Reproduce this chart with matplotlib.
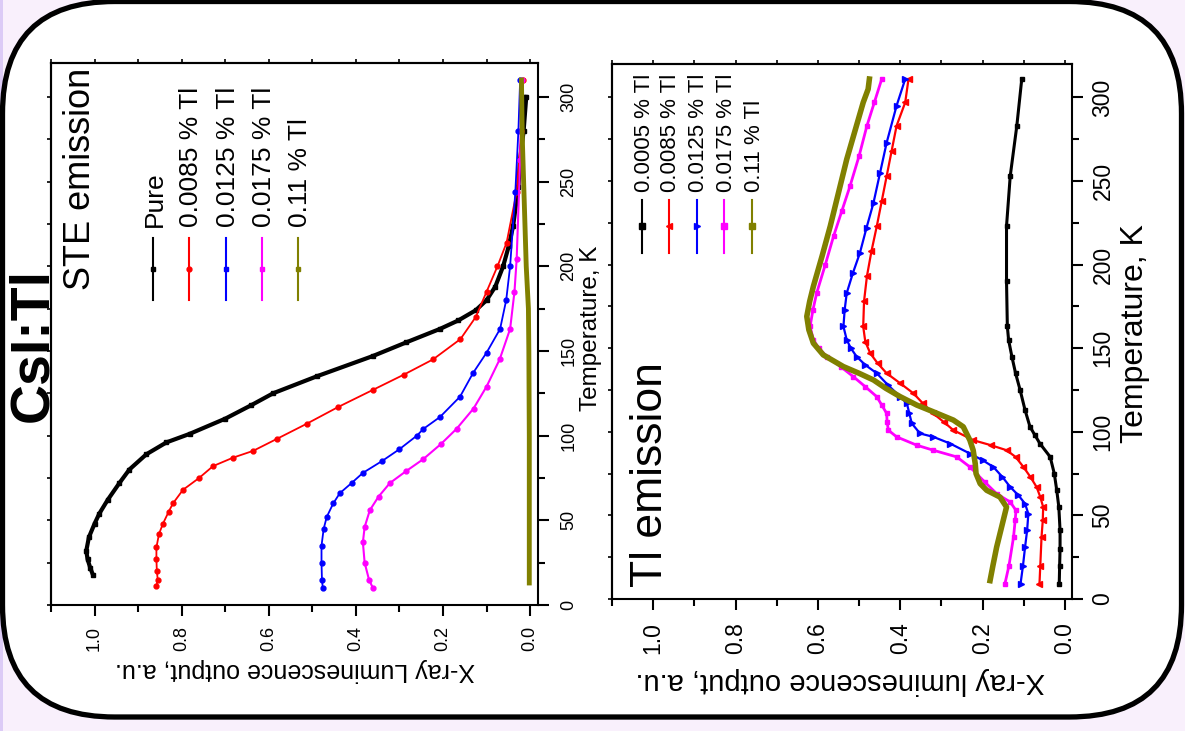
import matplotlib
matplotlib.use("Agg")
import matplotlib.pyplot as plt
from matplotlib.lines import Line2D
from matplotlib.patches import FancyBboxPatch, Rectangle
from matplotlib.ticker import MultipleLocator

plt.rcParams['font.family'] = ['Liberation Sans', 'DejaVu Sans']

# ---------------- data ----------------
# STE emission panel (temperature K, luminescence a.u.)
ste_labels = ["Pure", "0.0085 % Tl", "0.0125 % Tl", "0.0175 % Tl", "0.11 % Tl"]
ste_pure_T = [18, 22, 27, 32, 40, 48, 54, 62, 72, 80, 89, 96, 101, 110, 118, 125, 135, 147,
              155, 163, 168, 174, 180, 188, 200, 212, 224, 247, 263, 280, 300]
ste_pure_L = [1.004, 1.01, 1.016, 1.019, 1.013, 1.0, 0.989, 0.97, 0.943, 0.92, 0.881, 0.835,
              0.782, 0.70, 0.64, 0.59, 0.49, 0.361, 0.285, 0.207, 0.165, 0.125, 0.1, 0.08,
              0.062, 0.049, 0.039, 0.027, 0.023, 0.015, 0.009]
ste_0085_T = [11, 15, 20, 27, 34, 42, 48, 55, 60, 68, 75, 82, 87, 91, 98, 107, 117, 127, 136,
              145, 157, 170, 185, 200, 214, 244, 280, 310]
ste_0085_L = [0.858, 0.855, 0.857, 0.858, 0.858, 0.852, 0.843, 0.83, 0.82, 0.797, 0.76, 0.728,
              0.682, 0.636, 0.582, 0.513, 0.44, 0.361, 0.29, 0.223, 0.16, 0.125, 0.1, 0.075,
              0.054, 0.031, 0.02, 0.016]
ste_0125_T = [10, 15, 25, 35, 45, 52, 60, 66, 72, 78, 85, 92, 100, 104, 111, 123, 137, 149,
              163, 180, 200, 244, 280, 310]
ste_0125_L = [0.476, 0.478, 0.479, 0.479, 0.474, 0.467, 0.452, 0.437, 0.41, 0.384, 0.34, 0.3,
              0.26, 0.245, 0.207, 0.161, 0.131, 0.1, 0.069, 0.055, 0.046, 0.034, 0.027, 0.023]
ste_0175_T = [10, 15, 25, 37, 46, 56, 64, 72, 79, 86, 95, 104, 116, 129, 145, 163, 185, 204,
              263, 310]
ste_0175_L = [0.361, 0.37, 0.38, 0.384, 0.38, 0.368, 0.348, 0.322, 0.285, 0.246, 0.205, 0.169,
              0.13, 0.1, 0.07, 0.046, 0.036, 0.031, 0.023, 0.019]
ste_011_T = [13, 50, 100, 150, 175, 200, 225, 250, 275, 310]
ste_011_L = [0.002, 0.002, 0.002, 0.003, 0.004, 0.009, 0.012, 0.015, 0.018, 0.02]

# Tl emission panel
tl_labels = ["0.0005 % Tl", "0.0085 % Tl", "0.0125 % Tl", "0.0175 % Tl", "0.11 % Tl"]
tl_00005_T = [9, 20, 30, 41, 55, 65, 75, 85, 93, 98, 103, 113, 125, 135, 145, 155, 163, 190,
              223, 253, 283, 311]
tl_00005_L = [0.014, 0.013, 0.012, 0.012, 0.015, 0.02, 0.026, 0.036, 0.061, 0.073, 0.085,
              0.097, 0.109, 0.12, 0.129, 0.137, 0.14, 0.142, 0.142, 0.133, 0.117, 0.105]
tl_0085_T = [9, 20, 37, 47, 55, 61, 67, 73, 79, 85, 89, 92, 95, 101, 106, 111, 117, 123, 129,
             135, 141, 147, 154, 163, 178, 193, 208, 223, 238, 253, 268, 283, 297, 311]
tl_0085_L = [0.062, 0.06, 0.057, 0.054, 0.053, 0.06, 0.069, 0.084, 0.101, 0.12, 0.142, 0.18,
             0.223, 0.271, 0.295, 0.32, 0.345, 0.368, 0.40, 0.433, 0.455, 0.473, 0.485, 0.49,
             0.488, 0.481, 0.47, 0.457, 0.445, 0.433, 0.421, 0.409, 0.388, 0.38]
tl_0125_T = [9, 20, 31, 41, 51, 57, 62, 67, 73, 79, 83, 87, 93, 97, 99, 105, 111, 117, 121,
             128, 135, 140, 145, 150, 155, 163, 173, 183, 195, 207, 222, 237, 255, 273, 295, 311]
tl_0125_L = [0.108, 0.102, 0.097, 0.092, 0.089, 0.097, 0.113, 0.133, 0.152, 0.174, 0.2, 0.231,
             0.279, 0.32, 0.352, 0.372, 0.378, 0.384, 0.4, 0.43, 0.457, 0.485, 0.506, 0.52,
             0.53, 0.538, 0.535, 0.53, 0.515, 0.498, 0.482, 0.465, 0.449, 0.433, 0.409, 0.388]
tl_0175_T = [9, 20, 37, 47, 53, 58, 63, 70, 79, 85, 89, 92, 97, 101, 106, 111, 116, 121, 127,
             133, 139, 145, 150, 155, 163, 173, 183, 200, 217, 232, 247, 265, 283, 297, 311]
tl_0175_L = [0.146, 0.136, 0.125, 0.121, 0.119, 0.133, 0.166, 0.195, 0.231, 0.263, 0.32, 0.36,
             0.409, 0.429, 0.432, 0.433, 0.445, 0.457, 0.485, 0.514, 0.545, 0.578, 0.598, 0.611,
             0.619, 0.612, 0.603, 0.582, 0.562, 0.542, 0.522, 0.5, 0.481, 0.463, 0.445]
tl_011_T = [11, 20, 31, 41, 51, 55, 61, 65, 69, 75, 81, 89, 95, 99, 103, 107, 112, 116, 121,
            126, 131, 135, 139, 146, 153, 161, 169, 178, 187, 205, 223, 243, 263, 280, 297, 305,
            311]
tl_011_L = [0.182, 0.175, 0.166, 0.156, 0.146, 0.142, 0.158, 0.19, 0.206, 0.216, 0.218, 0.223,
            0.231, 0.239, 0.247, 0.271, 0.32, 0.36, 0.40, 0.435, 0.465, 0.5, 0.538, 0.587, 0.611,
            0.622, 0.627, 0.62, 0.611, 0.59, 0.57, 0.55, 0.53, 0.51, 0.49, 0.478, 0.475]

colors = ["black", "#FF0000", "#0000FF", "#FF00FF", "#808000"]
lum_ticks = [0.0, 0.2, 0.4, 0.6, 0.8, 1.0]
temp_ticks = [0, 50, 100, 150, 200, 250, 300]

# ---------------- figure ----------------
W, H = 1185, 731
fig = plt.figure(figsize=(W / 100, H / 100), dpi=100, facecolor="#F9F0FC")


def fx(px):
    return px / W


def fy(py):
    return 1 - py / H


# background strip and rounded frame
fig.add_artist(Rectangle((0, 0), fx(3), 1, transform=fig.transFigure,
                         facecolor="#DCCBF6", edgecolor="none", zorder=0))
frame = FancyBboxPatch((2.5 / 100, (H - 717) / 100), (1181.5 - 2.5) / 100, (717 - 1.5) / 100,
                       boxstyle="round,pad=0,rounding_size=1.12",
                       transform=fig.dpi_scale_trans, facecolor="white",
                       edgecolor="black", linewidth=3.8, zorder=0.5)
fig.add_artist(frame)


def make_axes(l, t, r, b, xlim, tick_fs, pad_x, pad_y):
    ax = fig.add_axes([fx(l), fy(b), fx(r) - fx(l), fy(t) - fy(b)])
    ax.set_facecolor("none")
    ax.set_zorder(2)
    ax.set_xlim(*xlim)
    ax.set_ylim(0, 320)
    ax.set_xticks(lum_ticks)
    ax.set_xticklabels([f"{v:.1f}" for v in lum_ticks], rotation=90)
    ax.xaxis.set_minor_locator(MultipleLocator(0.1))
    ax.yaxis.tick_right()
    ax.set_yticks(temp_ticks)
    ax.set_yticklabels([str(v) for v in temp_ticks], rotation=90, va="center")
    ax.yaxis.set_minor_locator(MultipleLocator(25))
    for s in ax.spines.values():
        s.set_linewidth(1.5)
    ax.tick_params(which="major", direction="out", length=8, width=1.5, labelsize=tick_fs)
    ax.tick_params(which="minor", direction="out", length=5, width=1.5)
    ax.tick_params(axis="x", pad=pad_x)
    ax.tick_params(axis="y", pad=pad_y)
    # mirrored short ticks on top and left
    sx = ax.secondary_xaxis("top")
    sx.set_xticks(lum_ticks)
    sx.set_xticklabels([])
    sx.xaxis.set_minor_locator(MultipleLocator(0.1))
    sx.tick_params(which="both", direction="out", length=3, width=1.2)
    sx.spines["top"].set_linewidth(1.5)
    sy = ax.secondary_yaxis("left")
    sy.set_yticks(temp_ticks)
    sy.set_yticklabels([])
    sy.yaxis.set_minor_locator(MultipleLocator(25))
    sy.tick_params(which="both", direction="out", length=3, width=1.2)
    sy.spines["left"].set_linewidth(1.5)
    return ax


# ---------- top panel: STE emission ----------
ax1 = make_axes(51, 63, 538, 605, (1.1, -0.018), 13, 7, 8)
ax1.plot(ste_pure_L, ste_pure_T, color=colors[0], lw=3, marker="s", ms=2.5)
ax1.plot(ste_0085_L, ste_0085_T, color=colors[1], lw=1.3, marker="o", ms=3.5)
ax1.plot(ste_0125_L, ste_0125_T, color=colors[2], lw=1.3, marker="o", ms=3.5)
ax1.plot(ste_0175_L, ste_0175_T, color=colors[3], lw=1.5, marker="o", ms=3.5)
ax1.plot(ste_011_L, ste_011_T, color=colors[4], lw=3.5)

fig.text(fx(295), fy(670), "X-ray Luminescence output, a.u.", rotation=180,
         ha="center", va="center", fontsize=18)
fig.text(fx(591), fy(328), "Temperature, K", rotation=90, ha="center", va="center",
         fontsize=17.5)
fig.text(fx(80), fy(290), "STE emission", rotation=90, ha="center", va="bottom", fontsize=26)

ste_leg_x = [153, 189, 226, 262, 298]
ste_markers = ["s", "o", "s", "s", "s"]
for x, c, m, lab in zip(ste_leg_x, colors, ste_markers, ste_labels):
    fig.add_artist(Line2D([fx(x), fx(x)], [fy(238), fy(300)], transform=fig.transFigure,
                          color=c, lw=1.5, zorder=3))
    fig.add_artist(Line2D([fx(x)], [fy(269)], transform=fig.transFigure, color=c,
                          marker=m, ms=3.5, zorder=3))
    fig.text(fx(x + 2), fy(227), lab, rotation=90, ha="center", va="bottom", fontsize=19)

# ---------- bottom panel: Tl emission ----------
ax2 = make_axes(612, 64, 1072, 599, (1.1, -0.017), 16.5, 9, 6)
ax2.plot(tl_00005_L, tl_00005_T, color=colors[0], lw=2.2, marker="s", ms=3)
ax2.plot(tl_0085_L, tl_0085_T, color=colors[1], lw=1.6, marker="<", ms=5)
ax2.plot(tl_0125_L, tl_0125_T, color=colors[2], lw=1.6, marker=">", ms=5)
ax2.plot(tl_0175_L, tl_0175_T, color=colors[3], lw=2, marker="s", ms=3.5)
ax2.plot(tl_011_L, tl_011_T, color=colors[4], lw=4)

fig.text(fx(840), fy(681), "X-ray luminescence output, a.u.", rotation=180,
         ha="center", va="center", fontsize=21)
fig.text(fx(1135), fy(334), "Temperature, K", rotation=90, ha="center", va="center",
         fontsize=23)
fig.text(fx(650), fy(587), "Tl emission", rotation=90, ha="center", va="bottom", fontsize=32)

tl_leg_x = [642, 669, 697, 724, 752]
tl_markers = ["s", "<", ">", "s", "s"]
for x, c, m, lab in zip(tl_leg_x, colors, tl_markers, tl_labels):
    fig.add_artist(Line2D([fx(x), fx(x)], [fy(200), fy(253)], transform=fig.transFigure,
                          color=c, lw=1.5, zorder=3))
    fig.add_artist(Line2D([fx(x)], [fy(226)], transform=fig.transFigure, color=c,
                          marker=m, ms=4, zorder=3))
    fig.text(fx(x + 2), fy(192), lab, rotation=90, ha="center", va="bottom", fontsize=16)

# ---------- main title ----------
fig.text(fx(33), fy(422), "CsI:Tl", rotation=90, ha="center", va="bottom",
         fontsize=40, fontweight="bold", zorder=3)

fig.savefig("out.png", dpi=100, facecolor=fig.get_facecolor())
